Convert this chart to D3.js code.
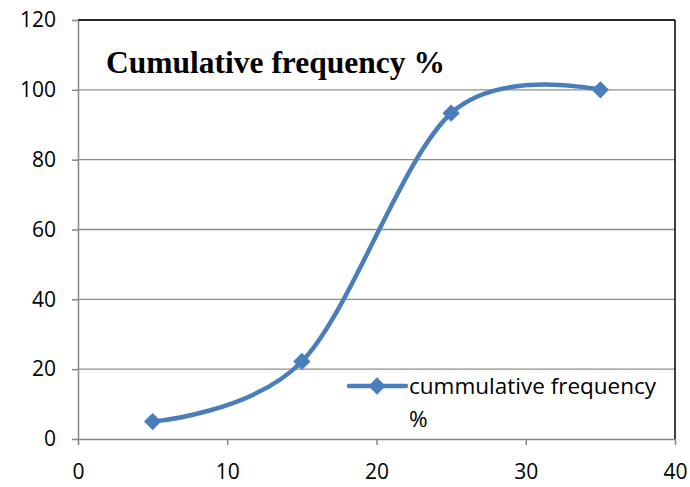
<!DOCTYPE html>
<head>
    <script src="https://d3js.org/d3.v7.min.js"></script>
    <style>
        body { margin: 0; background: white; }
        .tick text { font: 21px "Open Sans", "Liberation Sans", sans-serif; fill: black; }
    </style>
</head>
<body>
    <svg width="690" height="487"></svg>
</body>
<script>
    var xValues = [5, 15, 25, 35]
    var yValues = [5, 22.2, 93.3, 100]
    var xTicks = [0, 10, 20, 30, 40]
    var yTicks = [0, 20, 40, 60, 80, 100, 120]
    var seriesName = "cummulative frequency"
    var title = "Cumulative frequency %"

    var svg = d3.select("svg")
    var plotLeft = 78, plotRight = 675, plotTop = 20, plotBottom = 439
    var color = "#4a7ebb"

    var x = d3.scaleLinear().domain([0, 40]).range([plotLeft, plotRight])
    var y = d3.scaleLinear().domain([0, 120]).range([plotBottom, plotTop])

    // gridlines
    svg.append("g").selectAll("line")
        .data(yTicks.slice(1))
        .enter().append("line")
        .attr("x1", plotLeft).attr("x2", plotRight)
        .attr("y1", d => y(d)).attr("y2", d => y(d))
        .attr("stroke", "#8c8c8c").attr("stroke-width", 1.3)

    // top and right borders
    svg.append("line").attr("x1", plotLeft).attr("x2", plotRight).attr("y1", plotTop).attr("y2", plotTop)
        .attr("stroke", "black").attr("stroke-width", 1.5)
    svg.append("line").attr("x1", plotRight).attr("x2", plotRight).attr("y1", plotTop).attr("y2", plotBottom)
        .attr("stroke", "black").attr("stroke-width", 1.5)

    var xAxis = svg.append("g")
        .attr("transform", "translate(0," + plotBottom + ")")
        .call(d3.axisBottom(x).tickValues(xTicks).tickSize(6).tickSizeOuter(0).tickPadding(19))
    var yAxis = svg.append("g")
        .attr("transform", "translate(" + plotLeft + ",0)")
        .call(d3.axisLeft(y).tickValues(yTicks).tickSize(6).tickSizeOuter(0).tickPadding(16))
    svg.selectAll(".domain, .tick line").attr("stroke", "#868686").attr("stroke-width", 1.5)

    var pts = xValues.map((d, i) => [d, yValues[i]])
    var line = d3.line()
        .x(d => x(d[0])).y(d => y(d[1]))
        .curve(d3.curveCardinal.tension(0))

    svg.append("path")
        .datum(pts)
        .attr("d", line)
        .attr("fill", "none")
        .attr("stroke", color)
        .attr("stroke-width", 4.5)
        .attr("stroke-linecap", "round")

    var diamond = d3.symbol().type(d3.symbolDiamond2).size(190)
    svg.append("g").selectAll("path")
        .data(pts)
        .enter().append("path")
        .attr("d", diamond)
        .attr("transform", d => "translate(" + x(d[0]) + "," + y(d[1]) + ")")
        .attr("fill", color)

    // title
    svg.append("text")
        .attr("x", 106).attr("y", 73)
        .attr("font-family", "'Liberation Serif', 'Times New Roman', serif")
        .attr("font-weight", "bold").attr("font-size", 31.5)
        .text(title)

    // legend
    var lg = svg.append("g")
    lg.append("rect").attr("x", 345).attr("y", 372).attr("width", plotRight - 346).attr("height", plotBottom - 373)
        .attr("fill", "white")
    lg.append("line").attr("x1", 349).attr("x2", 406).attr("y1", 386).attr("y2", 386)
        .attr("stroke", color).attr("stroke-width", 4.5).attr("stroke-linecap", "round")
    lg.append("path").attr("d", diamond).attr("transform", "translate(377,386)").attr("fill", color)
    lg.append("text").attr("x", 409).attr("y", 394)
        .attr("font-family", "'Open Sans', 'Liberation Sans', sans-serif").attr("font-size", 22.5)
        .text(seriesName)
    lg.append("text").attr("x", 409).attr("y", 427)
        .attr("font-family", "'Open Sans', 'Liberation Sans', sans-serif").attr("font-size", 22.5)
        .text("%")
</script>
